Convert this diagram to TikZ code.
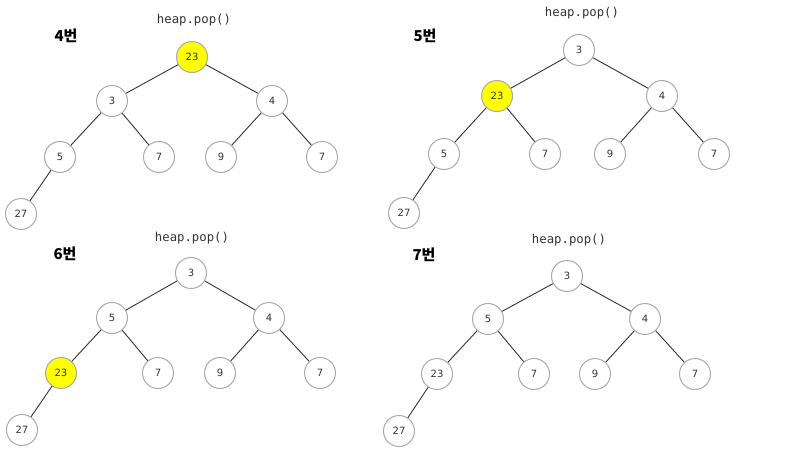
\documentclass[tikz,border=0pt]{standalone}
\usepackage{fontspec}
\setmainfont{DejaVu Sans}
\newfontfamily\krfont{Noto Sans CJK KR}
\newfontfamily\codefont{DejaVu Sans Mono}
\definecolor{ringgray}{HTML}{AAAAAA}
\definecolor{edgegray}{HTML}{333333}
\definecolor{txtgray}{HTML}{333333}
\definecolor{hilite}{HTML}{FFFF00}
\begin{document}
\begin{tikzpicture}[x=1pt,y=-1pt,
  hnode/.style={circle,draw=ringgray,line width=1pt,fill=white,minimum size=31pt,inner sep=0pt,font=\fontsize{10}{12}\selectfont,text=txtgray},
  hot/.style={fill=hilite},
  edge/.style={draw=edgegray,line width=0.9pt},
  title/.style={font=\codefont\fontsize{12.3}{14}\selectfont,text=txtgray},
  tag/.style={font=\krfont\bfseries\fontsize{15}{17}\selectfont,text=black}]
\useasboundingbox (0,0) rectangle (800,450);
% Panel 1
\node[title] (t1) at (194,20) {heap.pop()};
\node[tag] (l1) at (66,36) {4번};
\node[hnode,hot] (a1) at (192,57) {23};
\node[hnode] (a2) at (112,101) {3};
\node[hnode] (a3) at (272,101) {4};
\node[hnode] (a4) at (60,157) {5};
\node[hnode] (a5) at (159,157) {7};
\node[hnode] (a6) at (221,157) {9};
\node[hnode] (a7) at (322,157) {7};
\node[hnode] (a8) at (21,214) {27};
\draw[edge] (a1)--(a2) (a1)--(a3) (a2)--(a4) (a2)--(a5) (a3)--(a6) (a3)--(a7) (a4)--(a8);
% Panel 2
\node[title] (t2) at (582,13) {heap.pop()};
\node[tag] (l2) at (425,36) {5번};
\node[hnode] (b1) at (579,50) {3};
\node[hnode,hot] (b2) at (497,96) {23};
\node[hnode] (b3) at (662,96) {4};
\node[hnode] (b4) at (444,154) {5};
\node[hnode] (b5) at (545,154) {7};
\node[hnode] (b6) at (610,154) {9};
\node[hnode] (b7) at (714,154) {7};
\node[hnode] (b8) at (404,213) {27};
\draw[edge] (b1)--(b2) (b1)--(b3) (b2)--(b4) (b2)--(b5) (b3)--(b6) (b3)--(b7) (b4)--(b8);
% Panel 3
\node[title] (t3) at (192,238) {heap.pop()};
\node[tag] (l3) at (65,254) {6번};
\node[hnode] (c1) at (191,273) {3};
\node[hnode] (c2) at (112,318) {5};
\node[hnode] (c3) at (269,318) {4};
\node[hnode,hot] (c4) at (61,373) {23};
\node[hnode] (c5) at (158,373) {7};
\node[hnode] (c6) at (220,373) {9};
\node[hnode] (c7) at (320,373) {7};
\node[hnode] (c8) at (22,430) {27};
\draw[edge] (c1)--(c2) (c1)--(c3) (c2)--(c4) (c2)--(c5) (c3)--(c6) (c3)--(c7) (c4)--(c8);
% Panel 4
\node[title] (t4) at (569,240) {heap.pop()};
\node[tag] (l4) at (424,255) {7번};
\node[hnode] (d1) at (567,276) {3};
\node[hnode] (d2) at (488,319) {5};
\node[hnode] (d3) at (645,319) {4};
\node[hnode] (d4) at (437,374) {23};
\node[hnode] (d5) at (534,374) {7};
\node[hnode] (d6) at (595,374) {9};
\node[hnode] (d7) at (695,374) {7};
\node[hnode] (d8) at (399,431) {27};
\draw[edge] (d1)--(d2) (d1)--(d3) (d2)--(d4) (d2)--(d5) (d3)--(d6) (d3)--(d7) (d4)--(d8);
\end{tikzpicture}
\end{document}
